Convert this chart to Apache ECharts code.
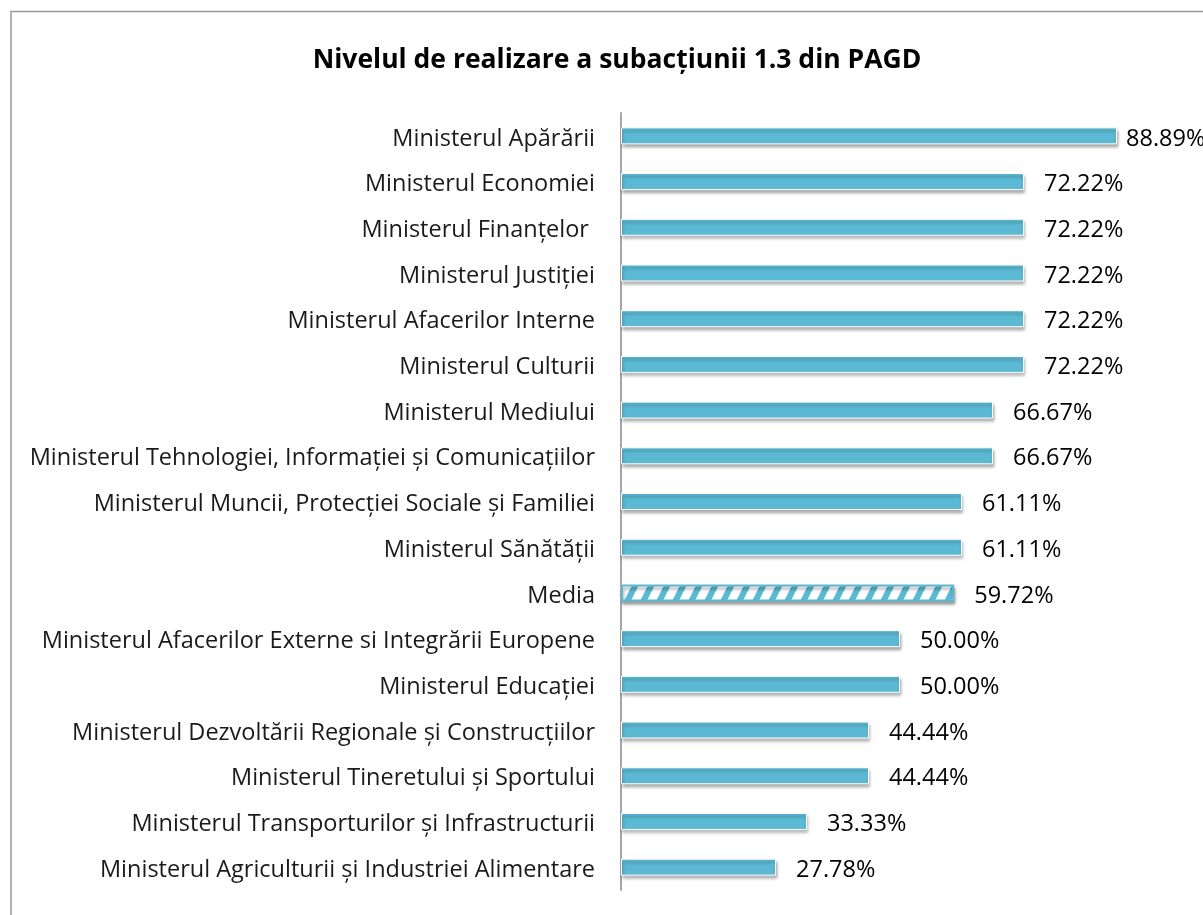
<!DOCTYPE html>
<html><head><meta charset="utf-8">
<script src="https://cdn.jsdelivr.net/npm/echarts@6/dist/echarts.min.js"></script>
<style>html,body{margin:0;padding:0;background:#fff}#c{width:1203px;height:915px}</style>
</head><body><div id="c"></div>
<script>
const categories = [
  "Ministerul Apărării",
  "Ministerul Economiei",
  "Ministerul Finanțelor ",
  "Ministerul Justiției",
  "Ministerul Afacerilor Interne",
  "Ministerul Culturii",
  "Ministerul Mediului",
  "Ministerul Tehnologiei, Informației și Comunicațiilor",
  "Ministerul Muncii, Protecției Sociale și Familiei",
  "Ministerul Sănătății",
  "Media",
  "Ministerul Afacerilor Externe si Integrării Europene",
  "Ministerul Educației",
  "Ministerul Dezvoltării Regionale și Construcțiilor",
  "Ministerul Tineretului și Sportului",
  "Ministerul Transporturilor și Infrastructurii",
  "Ministerul Agriculturii și Industriei Alimentare"
];
const values = [88.89, 72.22, 72.22, 72.22, 72.22, 72.22, 66.67, 66.67, 61.11, 61.11, 59.72, 50.00, 50.00, 44.44, 44.44, 33.33, 27.78];
const hatchedCategory = "Media";

const BAR = '#5BB9D3';
function hatch() {
  const c = document.createElement('canvas');
  c.width = 16; c.height = 32;
  const g = c.getContext('2d');
  g.fillStyle = '#fff'; g.fillRect(0,0,16,32);
  g.strokeStyle = BAR; g.lineWidth = 6;
  g.beginPath();
  for (let k = -32; k <= 32; k += 16) { g.moveTo(k, 32); g.lineTo(k + 16, 0); }
  g.stroke();
  return c;
}
const pat = hatch();
const data = values.map((v, i) => {
  const d = { value: v };
  if (categories[i] === hatchedCategory) {
    d.itemStyle = { color: { image: pat, repeat: 'repeat' }, borderColor: BAR, borderWidth: 2 };
  }
  if (i === 0) d.label = { distance: 9 };
  return d;
});

const FONT = 'Open Sans';
const chart = echarts.init(document.getElementById('c'));
chart.setOption({
  animation: false,
  backgroundColor: '#fff',
  textStyle: { fontFamily: FONT },
  title: {
    text: 'Nivelul de realizare a subacțiunii 1.3 din PAGD',
    left: 612, textAlign: 'center', top: 42,
    textStyle: { fontFamily: FONT, fontWeight: 'bold', fontSize: 26.5, color: '#000' }
  },
  graphic: [{
    type: 'rect', shape: { x: 11, y: 11.5, width: 1300, height: 1000 },
    style: { fill: 'none', stroke: '#9a9a9a', lineWidth: 1.5 }, silent: true
  }],
  grid: { left: 621, right: 24, top: 113, bottom: 25, containLabel: false },
  xAxis: { type: 'value', min: 0, max: 100, show: false },
  yAxis: {
    type: 'category', data: categories, inverse: true,
    axisLine: { show: true, lineStyle: { color: '#a6a6a6', width: 2 } },
    axisTick: { show: false },
    axisLabel: {
      color: '#1a1a1a', fontSize: 23.5, margin: 26, fontFamily: FONT,
      formatter: v => '{a|' + v + '}',
      rich: { a: { color: '#1a1a1a', fontSize: 23.5, fontFamily: FONT, padding: [6, 0, 0, 0] } }
    }
  },
  series: [{
    type: 'bar', data: data, barWidth: 17,
    itemStyle: {
      color: BAR, borderColor: '#fff', borderWidth: 1,
      shadowColor: 'rgba(0,0,0,0.35)', shadowBlur: 3, shadowOffsetX: 1, shadowOffsetY: 3
    },
    label: {
      show: true, position: 'right', distance: 20, color: '#000', fontSize: 23.5, fontFamily: FONT,
      offset: [0, 3],
      formatter: p => p.value.toFixed(2) + '%'
    }
  }]
});
</script></body></html>
